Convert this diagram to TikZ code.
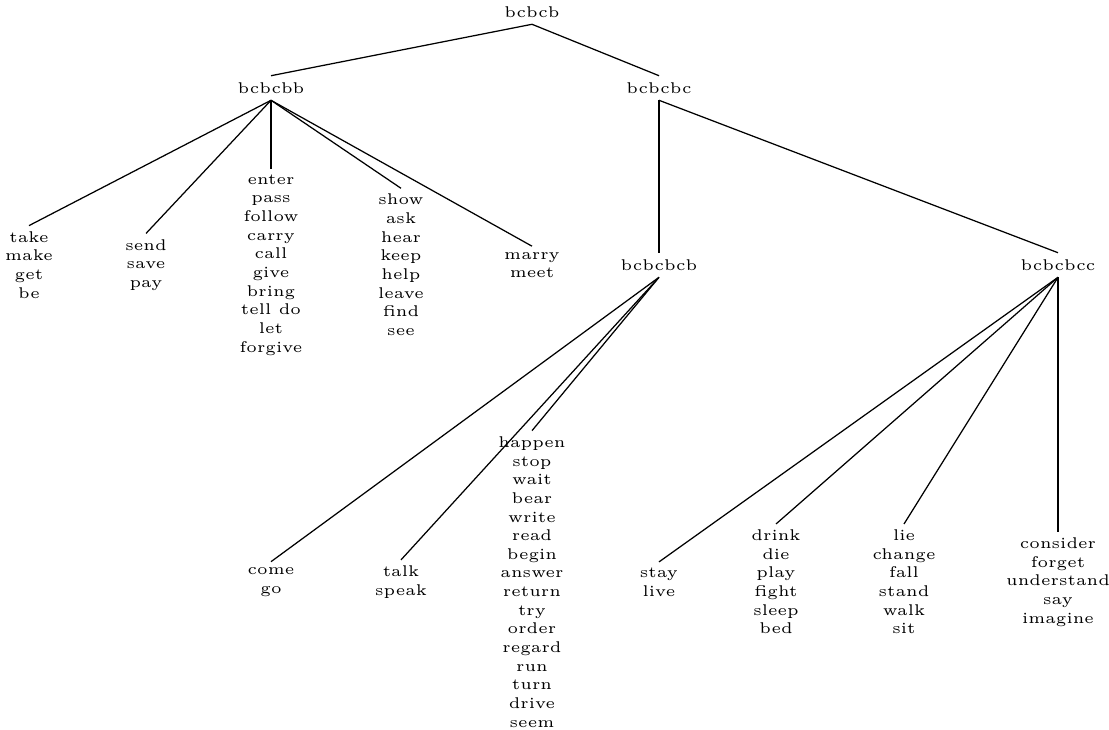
\documentclass[tikz,border=0pt]{standalone}
\usepackage{tikz}
\usepackage{fontspec}
\newfontfamily\wordfont{lmroman5-regular.otf}

\begin{document}
\begin{tikzpicture}[x=0.3215pt,y=-0.3215pt,
  class node/.style={font=\fontsize{5}{6}\wordfont,inner sep=1.7pt,minimum height=7.5pt},
  word node/.style={align=center,font=\fontsize{5}{6}\wordfont,inner sep=1.7pt}]
  \useasboundingbox (0,0) rectangle (1109,729);

  \node[class node] (r) at (532,12) {bcbcb};
  \node[class node] (b) at (271,88) {bcbcbb};
  \node[class node] (c) at (659,88) {bcbcbc};
  \node[class node] (cb) at (659,265) {bcbcbcb};
  \node[class node] (cc) at (1058,265) {bcbcbcc};

  \node[word node] (b1) at (29,265) {take\\make\\get\\be};
  \node[word node] (b2) at (146,265) {send\\save\\pay};
  \node[word node] (b3) at (271,265) {enter\\pass\\follow\\carry\\call\\give\\bring\\tell do\\let\\forgive};
  \node[word node] (b4) at (401,265) {show\\ask\\hear\\keep\\help\\leave\\find\\see};
  \node[word node] (b5) at (532,265) {marry\\meet};

  \node[word node] (cb1) at (271,582) {come\\go};
  \node[word node] (cb2) at (401,582) {talk\\speak};
  \node[word node] (cb3) at (532,582) {happen\\stop\\wait\\bear\\write\\read\\begin\\answer\\return\\try\\order\\regard\\run\\turn\\drive\\seem};

  \node[word node] (cc1) at (659,582) {stay\\live};
  \node[word node] (cc2) at (776,582) {drink\\die\\play\\fight\\sleep\\bed};
  \node[word node] (cc3) at (904,582) {lie\\change\\fall\\stand\\walk\\sit};
  \node[word node] (cc4) at (1058,582) {consider\\forget\\understand\\say\\imagine};

  \path (r.south) edge (b.north)
                  edge (c.north)
        (b.south) edge (b1.north)
                  edge (b2.north)
                  edge (b3.north)
                  edge (b4.north)
                  edge (b5.north)
        (c.south) edge (cb.north)
                  edge (cc.north)
        (cb.south) edge (cb1.north)
                   edge (cb2.north)
                   edge (cb3.north)
        (cc.south) edge (cc1.north)
                   edge (cc2.north)
                   edge (cc3.north)
                   edge (cc4.north);
\end{tikzpicture}
\end{document}
